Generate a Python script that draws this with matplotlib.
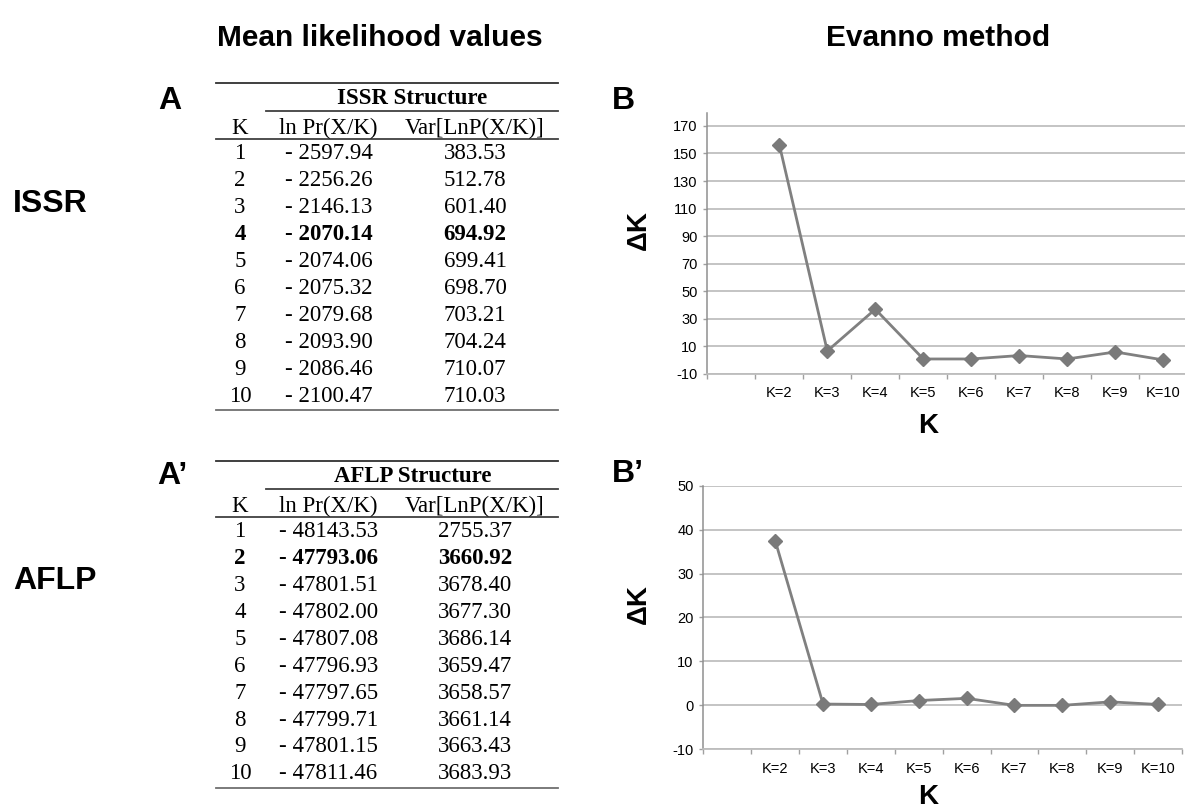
import numpy as np
import matplotlib
matplotlib.use("Agg")
import matplotlib.pyplot as plt
from matplotlib.lines import Line2D
from matplotlib.ticker import FixedLocator

# ---------------- data ----------------
k_values = list(range(1, 11))
issr_lnp = [-2597.94, -2256.26, -2146.13, -2070.14, -2074.06, -2075.32, -2079.68, -2093.90, -2086.46, -2100.47]
issr_var = [383.53, 512.78, 601.40, 694.92, 699.41, 698.70, 703.21, 704.24, 710.07, 710.03]
issr_best_k = 4
aflp_lnp = [-48143.53, -47793.06, -47801.51, -47802.00, -47807.08, -47796.93, -47797.65, -47799.71, -47801.15, -47811.46]
aflp_var = [2755.37, 3660.92, 3678.40, 3677.30, 3686.14, 3659.47, 3658.57, 3661.14, 3663.43, 3683.93]
aflp_best_k = 2

k_categories = ["", "K=2", "K=3", "K=4", "K=5", "K=6", "K=7", "K=8", "K=9", "K=10"]
issr_delta_k = [156.5, 6.7, 37.0, 0.9, 0.9, 3.4, 0.9, 6.0, 0.2]
aflp_delta_k = [37.5, 0.3, 0.2, 1.1, 1.6, 0.0, 0.0, 0.8, 0.2]
issr_yticks = list(range(-10, 171, 20))
aflp_yticks = list(range(-10, 51, 10))

# ---------------- figure ----------------
W, H = 1185, 810
fig = plt.figure(figsize=(W / 100, H / 100), dpi=100)
fig.patch.set_facecolor("white")

SANS = ["Liberation Sans", "DejaVu Sans"]
SERIF = ["Liberation Serif", "DejaVu Serif"]


def fx(x):
    return x / W


def fy(y):
    return 1 - y / H


def ftext(x, y, s, **kw):
    fig.text(fx(x), fy(y), s, **kw)


def hline(x0, x1, y, lw=1.2, color="#404040"):
    fig.add_artist(Line2D([fx(x0), fx(x1)], [fy(y), fy(y)], transform=fig.transFigure,
                          lw=lw, color=color))


# titles
ftext(380, 38, "Mean likelihood values", family=SANS, fontsize=21.5, fontweight="bold",
      ha="center", va="center")
ftext(938, 38, "Evanno method", family=SANS, fontsize=21.5, fontweight="bold",
      ha="center", va="center")

# row labels
ftext(13, 203.5, "ISSR", family=SANS, fontsize=23, fontweight="bold", ha="left", va="center")
ftext(13, 581, "AFLP", family=SANS, fontsize=23, fontweight="bold", ha="left", va="center")

# panel letters
ftext(158, 101, "A", family=SANS, fontsize=23, fontweight="bold", ha="left", va="center")
ftext(157, 476, "A\u2019", family=SANS, fontsize=23, fontweight="bold", ha="left", va="center")
ftext(612, 101, "B", family=SANS, fontsize=23, fontweight="bold", ha="left", va="center")
ftext(612, 474, "B\u2019", family=SANS, fontsize=23, fontweight="bold", ha="left", va="center")


# ---------------- tables ----------------
def draw_table(top, title, lnp, var, best_k):
    x0, x1 = 216, 558
    xk, xl, xv = 240, 328.5, 475
    fs = 16.5
    hline(x0, x1, top, lw=1.3, color="#303030")
    ftext(412.5, top + 15, title, family=SERIF, fontsize=fs, fontweight="bold",
          ha="center", va="center")
    hline(266, x1, top + 28, lw=1.3, color="#404040")
    ftext(xk, top + 45, "K", family=SERIF, fontsize=fs, ha="center", va="center")
    ftext(xl, top + 45, "ln Pr(X/K)", family=SERIF, fontsize=fs, ha="center", va="center")
    ftext(xv, top + 45, "Var[LnP(X/K)]", family=SERIF, fontsize=fs, ha="center", va="center")
    hline(x0, x1, top + 55.5, lw=1.3, color="#404040")
    step = 26.93
    for i, (k, lv, vv) in enumerate(zip(k_values, lnp, var)):
        y = top + 70.5 + i * step
        w = "bold" if k == best_k else "normal"
        ftext(xk, y, str(k), family=SERIF, fontsize=fs, fontweight=w, ha="center", va="center")
        ftext(xl, y, f"- {abs(lv):.2f}", family=SERIF, fontsize=fs, fontweight=w,
              ha="center", va="center")
        ftext(xv, y, f"{vv:.2f}", family=SERIF, fontsize=fs, fontweight=w,
              ha="center", va="center")
    hline(x0, x1, top + 327, lw=1.3, color="#707070")


draw_table(83.3, "ISSR Structure", issr_lnp, issr_var, issr_best_k)
draw_table(461, "AFLP Structure", aflp_lnp, aflp_var, aflp_best_k)


# ---------------- Evanno charts ----------------
def evanno(left, right, top, bottom, values, yticks, ytop, klab_y, dk_y):
    ax = fig.add_axes([fx(left), fy(bottom), (right - left) / W, (bottom - top) / H])
    ax.set_facecolor("none")
    n = len(k_categories)
    ax.set_xlim(-0.5, n - 0.5)
    ax.set_ylim(yticks[0], ytop)
    ax.set_yticks(yticks)
    ax.set_yticklabels([str(t) for t in yticks], family=SANS, fontsize=10.5)
    ax.yaxis.grid(True, color="#bfbfbf", lw=1.3)
    ax.set_axisbelow(True)
    ax.set_xticks(np.arange(n))
    ax.set_xticklabels(k_categories, family=SANS, fontsize=10.5)
    ax.xaxis.set_minor_locator(FixedLocator(np.arange(-0.5, n, 1.0)))
    ax.tick_params(axis="x", which="major", length=0, pad=9, colors="#000000")
    ax.tick_params(axis="x", which="minor", length=3.5, width=1, color="#a0a0a0", direction="out")
    ax.tick_params(axis="y", length=3, width=1, color="#a0a0a0", pad=4)
    for s in ("top", "right"):
        ax.spines[s].set_visible(False)
    ax.spines["left"].set_color("#909090")
    ax.spines["left"].set_linewidth(1.1)
    ax.spines["bottom"].set_color("#bdbdbd")
    ax.spines["bottom"].set_linewidth(1.3)
    xs = np.arange(1, len(values) + 1)
    ax.plot(xs, values, color="#808080", lw=2, marker="D", ms=7.5,
            markerfacecolor="#7a7a7a", markeredgecolor="#7a7a7a", clip_on=False, zorder=3)
    ftext(639, dk_y, "\u0394K", family=SANS, fontsize=20, fontweight="bold",
          rotation=90, ha="center", va="center")
    ftext(928, klab_y, "K", family=SANS, fontsize=20, fontweight="bold",
          ha="center", va="center")
    return ax


evanno(707.3, 1187.3, 112.7, 374, issr_delta_k, issr_yticks, 179.6, 426, 230)
evanno(703.4, 1182, 485.7, 749.3, aflp_delta_k, aflp_yticks, 50, 797, 604)

fig.savefig("out.png", dpi=100, facecolor="white")
